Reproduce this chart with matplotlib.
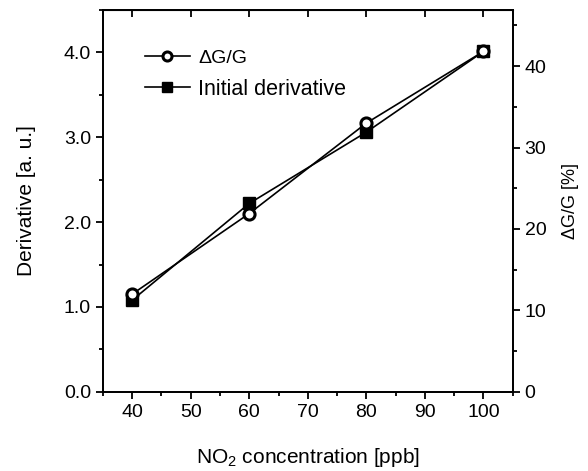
import matplotlib
matplotlib.use('Agg')
import matplotlib.pyplot as plt
from matplotlib.lines import Line2D
from matplotlib.ticker import MultipleLocator, FormatStrFormatter

plt.rcParams['font.family'] = ['Liberation Sans', 'DejaVu Sans']
plt.rcParams['mathtext.fontset'] = 'custom'
plt.rcParams['mathtext.rm'] = 'Liberation Sans'
plt.rcParams['mathtext.it'] = 'Liberation Sans'

# данные
conc = [40, 60, 80, 100]
derivative = [1.08, 2.22, 3.06, 4.01]
dg_g = [12.0, 21.9, 33.0, 41.8]

fig, ax = plt.subplots(figsize=(5.88, 4.71), dpi=100)
fig.subplots_adjust(left=0.175, right=0.872, top=0.979, bottom=0.168)
ax2 = ax.twinx()

ax.plot(conc, derivative, color='black', lw=1.2, marker='s',
        ms=8.5, mfc='black', mec='black')
ax2.plot(conc, dg_g, color='black', lw=1.2, marker='o',
         ms=8, mfc='white', mec='black', mew=2.2)

ax.set_xlim(35, 105)
ax.set_ylim(0, 4.5)
ax2.set_ylim(0, 46.9)

ax.xaxis.set_major_locator(MultipleLocator(10))
ax.xaxis.set_minor_locator(MultipleLocator(5))
ax.yaxis.set_major_locator(MultipleLocator(1))
ax.yaxis.set_minor_locator(MultipleLocator(0.5))
ax.yaxis.set_major_formatter(FormatStrFormatter('%.1f'))
ax2.yaxis.set_major_locator(MultipleLocator(10))
ax2.yaxis.set_minor_locator(MultipleLocator(5))

for a in (ax, ax2):
    a.tick_params(which='major', direction='out', length=5, width=1.3, labelsize=14)
    a.tick_params(which='minor', direction='out', length=3, width=1.3)
    for s in a.spines.values():
        s.set_linewidth(1.3)

# верхние засечки внутрь
top = ax.secondary_xaxis('top')
top.xaxis.set_major_locator(MultipleLocator(10))
top.tick_params(which='major', direction='in', length=5, width=1.3, labeltop=False)
top.tick_params(which='minor', length=0)

ax.set_xlabel('NO$_2$ concentration [ppb]', fontsize=15, labelpad=18)
ax.set_ylabel('Derivative [a. u.]', fontsize=15, labelpad=20)
ax2.set_ylabel('ΔG/G [%]', fontsize=13, labelpad=11)

# легенда
h1 = Line2D([], [], color='black', lw=1.2, marker='o', ms=6.5,
            mfc='white', mec='black', mew=2.2)
h2 = Line2D([], [], color='black', lw=1.2, marker='s', ms=7, mfc='black')
leg = ax.legend([h1, h2], ['ΔG/G', 'Initial derivative'], loc='upper left',
                bbox_to_anchor=(0.102, 0.900), frameon=False, fontsize=15.5,
                handlelength=2.1, handletextpad=0.37, borderaxespad=0,
                borderpad=0, labelspacing=0.55)
leg.get_texts()[0].set_fontsize(14)

plt.savefig('out.png', dpi=100)
